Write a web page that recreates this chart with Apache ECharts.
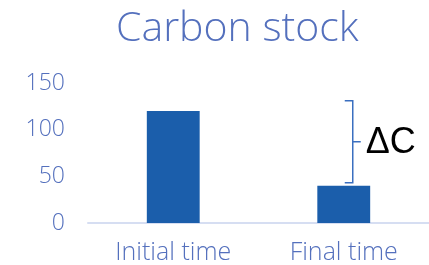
<!DOCTYPE html>
<html>
<head>
<meta charset="utf-8">
<script src="https://cdn.jsdelivr.net/npm/echarts@6/dist/echarts.min.js"></script>
<style>
html, body { margin: 0; padding: 0; background: #fff; }
#chart { width: 429px; height: 265px; }
</style>
</head>
<body>
<div id="chart"></div>
<script>
// chart values
var categories = ['Initial time', 'Final time'];
var carbonStock = [120, 40];
var yTicks = [0, 150, 50]; // min, max, step
// the ΔC brace: category index, lower value, upper value
var braceSpan = [1, 43, 131];
var braceLabel = 'ΔC';

var labelColor = '#5470bd';

var myChart = echarts.init(document.getElementById('chart'));
myChart.setOption({
    animation: false,
    title: {
        text: 'Carbon stock',
        left: 111,
        top: 4,
        textStyle: {
            color: labelColor,
            fontFamily: 'Open Sans',
            fontWeight: 300,
            fontSize: 41
        }
    },
    grid: {
        left: 88,
        right: -3,
        top: 83,
        bottom: 42
    },
    xAxis: {
        type: 'category',
        data: categories,
        axisLine: { lineStyle: { color: '#d6def2', width: 2 } },
        axisTick: { show: false },
        axisLabel: {
            color: labelColor,
            fontFamily: 'Open Sans',
            fontWeight: 300,
            fontSize: 25,
            margin: 17
        }
    },
    yAxis: {
        type: 'value',
        min: yTicks[0],
        max: yTicks[1],
        interval: yTicks[2],
        axisLine: { show: false },
        axisTick: { show: false },
        splitLine: { show: false },
        axisLabel: {
            color: labelColor,
            fontFamily: 'Open Sans',
            fontWeight: 300,
            fontSize: 23,
            margin: 23
        }
    },
    series: [
        {
            type: 'bar',
            data: carbonStock,
            barWidth: '31%',
            itemStyle: { color: '#1b5eab' }
        },
        {
            type: 'custom',
            data: [braceSpan],
            z: 5,
            renderItem: function (params, api) {
                var top = api.coord([api.value(0), api.value(2)]);
                var bot = api.coord([api.value(0), api.value(1)]);
                var x = top[0] + 9;
                var y1 = top[1], y2 = bot[1];
                var ym = (y1 + y2) / 2;
                var path = 'M' + (x - 8) + ' ' + y1 + ' L' + x + ' ' + y1 +
                    ' L' + x + ' ' + y2 + ' L' + (x - 8) + ' ' + y2 +
                    ' M' + x + ' ' + ym + ' L' + (x + 8) + ' ' + ym;
                return {
                    type: 'group',
                    children: [
                        {
                            type: 'path',
                            shape: { pathData: path },
                            style: { fill: null, stroke: '#3a6fc0', lineWidth: 1.5 }
                        },
                        {
                            type: 'text',
                            style: {
                                text: braceLabel,
                                x: x + 13,
                                y: ym + 1,
                                verticalAlign: 'middle',
                                fill: '#000',
                                fontFamily: 'Liberation Sans',
                                fontSize: 36
                            }
                        }
                    ]
                };
            }
        }
    ]
});
</script>
</body>
</html>
